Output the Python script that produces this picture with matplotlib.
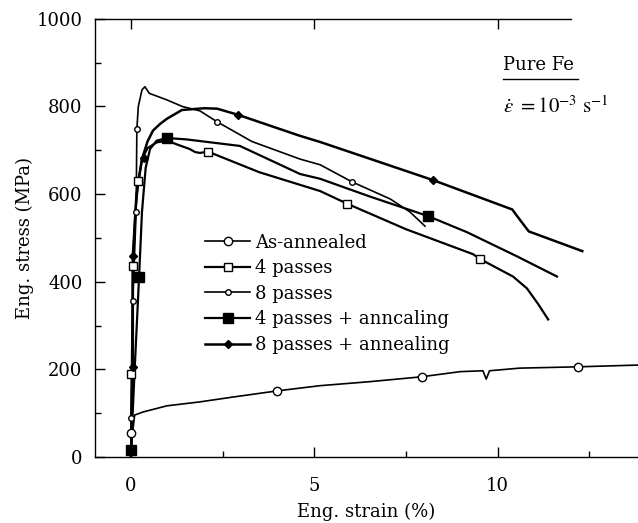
import numpy as np
import matplotlib
matplotlib.use("Agg")
import matplotlib.pyplot as plt
from matplotlib.lines import Line2D
from matplotlib.ticker import MultipleLocator

plt.rcParams["font.family"] = ["DejaVu Serif"]
plt.rcParams["mathtext.fontset"] = "stix"

# As-annealed
ann_strain = [0.0, 0.02, 0.05, 0.1, 0.33, 0.98, 1.88, 2.78, 3.98, 5.16, 6.5, 7.9,
              8.98, 9.6, 9.69, 9.78, 10.6, 12.2, 13.83]
ann_stress = [0, 30, 60, 96, 103, 117, 126, 137, 151, 163, 172, 183,
              195, 197, 178, 197, 203, 206, 210]
ann_mk_strain = [0.0, 3.98, 7.94, 12.2]
ann_mk_stress = [55, 151, 183, 206]

# 4 passes
p4_strain = [0.0, 0.05, 0.12, 0.2, 0.3, 0.45, 0.7, 0.98, 1.3, 1.6, 1.75, 1.88,
             2.1, 3.5, 5.16, 5.9, 7.5, 9.33, 9.52, 10.42, 10.8, 11.1, 11.38]
p4_stress = [0, 435, 560, 630, 680, 705, 718, 722, 712, 703, 696, 694,
             697, 650, 607, 578, 520, 463, 452, 412, 385, 350, 314]
p4_mk_strain = [0.0, 0.05, 0.2, 2.1, 5.9, 9.52]
p4_mk_stress = [190, 435, 630, 697, 578, 452]

# 8 passes
p8_strain = [0.0, 0.0, 0.05, 0.14, 0.16, 0.2, 0.3, 0.38, 0.5, 0.98, 1.4, 1.88,
             2.35, 3.3, 4.61, 5.16, 6.03, 7.07, 7.6, 8.02]
p8_stress = [0, 89, 357, 559, 749, 800, 838, 845, 830, 815, 800, 790,
             765, 720, 680, 667, 628, 589, 560, 527]
p8_mk_strain = [0.0, 0.05, 0.14, 0.16, 2.35, 6.03]
p8_mk_stress = [89, 357, 559, 749, 765, 628]

# 4 passes + annealing
p4a_strain = [0.0, 0.0, 0.1, 0.22, 0.3, 0.4, 0.52, 0.7, 0.98, 1.5, 2.97, 4.61,
              5.16, 6.5, 8.1, 9.17, 10.53, 11.62]
p4a_stress = [0, 16, 200, 410, 560, 660, 703, 722, 728, 725, 710, 646,
              635, 595, 550, 513, 458, 412]
p4a_mk_strain = [0.0, 0.22, 0.98, 8.1]
p4a_mk_stress = [16, 410, 728, 550]

# 8 passes + annealing
p8a_strain = [0.0, 0.05, 0.05, 0.15, 0.3, 0.45, 0.6, 0.79, 0.98, 1.39, 2.0, 2.35,
              2.92, 4.61, 5.16, 8.24, 10.4, 10.55, 10.85, 12.31]
p8a_stress = [0, 206, 458, 600, 680, 720, 745, 760, 772, 792, 796, 795,
              781, 733, 719, 632, 565, 548, 515, 470]
p8a_mk_strain = [0.05, 0.05, 0.35, 2.92, 8.24]
p8a_mk_stress = [206, 458, 682, 781, 632]

fig = plt.figure(figsize=(6.38, 5.23), dpi=100)
ax = fig.add_axes([0.149, 0.126, 0.851, 0.838])

series = [
    ("As-annealed", ann_strain, ann_stress, ann_mk_strain, ann_mk_stress,
     dict(marker="o", ms=6, mfc="white", lw=1.2)),
    ("4 passes", p4_strain, p4_stress, p4_mk_strain, p4_mk_stress,
     dict(marker="s", ms=6, mfc="white", lw=1.6)),
    ("8 passes", p8_strain, p8_stress, p8_mk_strain, p8_mk_stress,
     dict(marker="o", ms=4, mfc="white", lw=1.2)),
    ("4 passes + anncaling", p4a_strain, p4a_stress, p4a_mk_strain, p4a_mk_stress,
     dict(marker="s", ms=6.5, mfc="black", lw=1.6)),
    ("8 passes + annealing", p8a_strain, p8a_stress, p8a_mk_strain, p8a_mk_stress,
     dict(marker="D", ms=4, mfc="black", lw=1.8)),
]

handles = []
for label, xs, ys, mx, my, st in series:
    ax.plot(xs, ys, color="black", lw=st["lw"], zorder=2)
    ax.plot(mx, my, ls="none", marker=st["marker"], ms=st["ms"],
            mfc=st["mfc"], mec="black", mew=1.0, zorder=3)
    handles.append(Line2D([], [], color="black", lw=st["lw"], marker=st["marker"],
                          ms=st["ms"], mfc=st["mfc"], mec="black", mew=1.0,
                          label=label))

ax.set_xlim(-0.98, 13.83)
ax.set_ylim(0, 1000)

ax.xaxis.set_major_locator(MultipleLocator(5))
ax.xaxis.set_minor_locator(MultipleLocator(2.5))
ax.yaxis.set_major_locator(MultipleLocator(200))
ax.yaxis.set_minor_locator(MultipleLocator(100))
ax.tick_params(which="both", direction="in", top=True, right=False,
               labelsize=13, width=1.0)
ax.tick_params(axis="x", which="minor", top=False)
ax.tick_params(which="major", length=7)
ax.tick_params(which="minor", length=4)
ax.tick_params(axis="x", pad=14)
ax.tick_params(axis="y", pad=9)

ax.spines["right"].set_visible(False)
ax.spines["top"].set_bounds(-0.98, 12.0)
for s in ["top", "left", "bottom"]:
    ax.spines[s].set_linewidth(1.0)

ax.set_xlabel("Eng. strain (%)", fontsize=13, labelpad=6)
ax.set_ylabel("Eng. stress (MPa)", fontsize=13, labelpad=2)

ax.legend(handles=handles, loc="upper left", bbox_to_anchor=(0.203, 0.51),
          frameon=False, fontsize=13, handlelength=2.5, handletextpad=0.25,
          borderpad=0, borderaxespad=0, labelspacing=0.42)

ax.text(0.751, 0.875, "Pure Fe", transform=ax.transAxes, fontsize=13,
        ha="left", va="bottom")
ax.plot([0.751, 0.889], [0.862, 0.862], transform=ax.transAxes,
        color="black", lw=1.0, clip_on=False)
ax.text(0.751, 0.80, r"$\dot{\varepsilon}\ = 10^{-3}\ \mathrm{s}^{-1}$",
        transform=ax.transAxes, fontsize=15, ha="left", va="center")

fig.savefig("out.png", dpi=100)
